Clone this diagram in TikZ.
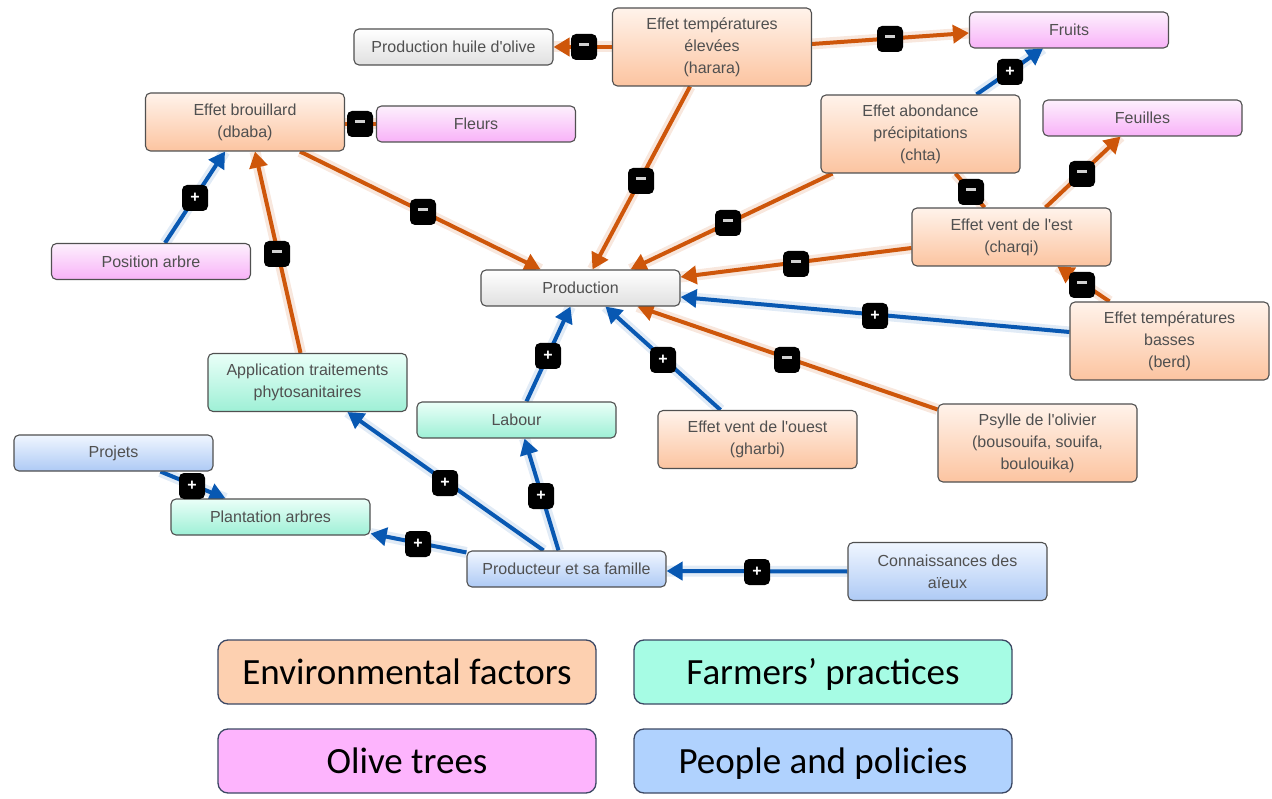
\documentclass[tikz,border=0pt]{standalone}
\usepackage{fontspec}
\setmainfont{Liberation Sans}
\newfontfamily\legendfont{Carlito}
\usetikzlibrary{arrows.meta}
\pgfdeclarelayer{bg}
\pgfsetlayers{bg,main}

\definecolor{edgeO}{RGB}{206,86,10}
\definecolor{edgeB}{RGB}{8,88,178}
\definecolor{envTop}{RGB}{255,243,235}
\definecolor{envBot}{RGB}{252,196,160}
\definecolor{treeTop}{RGB}{253,240,253}
\definecolor{treeBot}{RGB}{248,178,248}
\definecolor{pracTop}{RGB}{234,255,248}
\definecolor{pracBot}{RGB}{158,240,214}
\definecolor{peopTop}{RGB}{240,246,255}
\definecolor{peopBot}{RGB}{174,202,245}
\definecolor{grayBot}{RGB}{224,224,224}
\definecolor{nodeText}{RGB}{80,80,80}
\definecolor{nodeBorder}{RGB}{80,80,80}
\definecolor{legEnv}{RGB}{253,208,176}
\definecolor{legPrac}{RGB}{166,252,228}
\definecolor{legTree}{RGB}{253,180,253}
\definecolor{legPeop}{RGB}{176,210,254}
\definecolor{legBorder}{RGB}{60,72,100}

\newcommand{\badgeplus}{\textcolor{white}{\bfseries +}}
\newcommand{\badgeminus}{\textcolor{white!82!black}{\rule[4.5pt]{10pt}{2.6pt}}}

\tikzset{
  concept/.style={draw=nodeBorder, line width=1.1pt, rounded corners=5pt,
    minimum width=199pt, minimum height=36pt, align=center, text=nodeText,
    font=\fontsize{16}{22}\selectfont, inner sep=2pt},
  envbox/.style={concept, top color=envTop, bottom color=envBot},
  treebox/.style={concept, top color=treeTop, bottom color=treeBot},
  pracbox/.style={concept, top color=pracTop, bottom color=pracBot},
  peopbox/.style={concept, top color=peopTop, bottom color=peopBot},
  graybox/.style={concept, top color=white, bottom color=grayBot},
  twoline/.style={minimum height=58pt},
  threeline/.style={minimum height=78pt},
  tipO/.style={-{Triangle[length=16pt,width=18pt]}},
  linkO/.style={draw=edgeO, line width=4pt,
    preaction={draw=edgeO!14, line width=11pt, arrows=-}},
  linkB/.style={draw=edgeB, line width=4pt,
    preaction={draw=edgeB!12, line width=11pt, arrows=-}},
  badge/.style={fill=black, rounded corners=5pt, minimum width=26pt,
    minimum height=26pt, inner sep=0pt, font=\fontsize{16}{16}\selectfont},
  legbox/.style={draw=legBorder, line width=1.3pt, rounded corners=10pt,
    minimum width=378pt, minimum height=64pt, text=black, inner sep=0pt,
    text height=31pt, text depth=7pt,
    font=\legendfont\fontsize{37}{42}\selectfont}
}

\begin{document}
\begin{tikzpicture}[x=1pt,y=-1pt]
\useasboundingbox (0,0) rectangle (1272,799);

% concept nodes
\node[graybox] (huile) at (453.5,47) {Production huile d\textquotesingle olive};
\node[envbox,threeline] (harara) at (712,47) {Effet températures\\élevées\\(harara)};
\node[treebox] (fruits) at (1069,30) {Fruits};
\node[envbox,twoline] (brouillard) at (245,122) {Effet brouillard\\(dbaba)};
\node[treebox] (fleurs) at (476,124) {Fleurs};
\node[envbox,threeline] (chta) at (920.5,134) {Effet abondance\\précipitations\\(chta)};
\node[treebox] (feuilles) at (1142.5,118) {Feuilles};
\node[treebox] (posarbre) at (151,261.5) {Position arbre};
\node[graybox] (prod) at (580.5,288) {Production};
\node[envbox,twoline] (ventest) at (1011.5,237) {Effet vent de l\textquotesingle est\\(charqi)};
\node[envbox,threeline] (berd) at (1169.5,341) {Effet températures\\basses\\(berd)};
\node[pracbox,twoline] (appl) at (307.5,382.5) {Application traitements\\phytosanitaires};
\node[pracbox] (labour) at (516.5,420) {Labour};
\node[envbox,twoline] (gharbi) at (757.5,439.5) {Effet vent de l\textquotesingle ouest\\(gharbi)};
\node[envbox,threeline] (psylle) at (1037.5,443) {Psylle de l\textquotesingle olivier\\(bousouifa, souifa,\\boulouika)};
\node[peopbox] (projets) at (113.5,453) {Projets};
\node[pracbox] (plantation) at (270.5,517) {Plantation arbres};
\node[peopbox] (producteur) at (566.5,569) {Producteur et sa famille};
\node[peopbox,twoline] (connaiss) at (947.5,571.5) {Connaissances des\\aïeux};

% connectors
\begin{pgfonlayer}{bg}
\draw[linkO,tipO] (harara.west) -- (huile.east);
\draw[linkO,tipO] ([yshift=3pt]harara.east) -- ([yshift=-3pt]fruits.west);
\draw[linkO,tipO] ([xshift=-22pt]harara.south) -- ([xshift=12pt]prod.north);
\draw[linkO,tipO] ([xshift=-88pt]chta.south) -- ([xshift=50pt]prod.north);
\draw[linkO] ([yshift=-2pt]brouillard.east) -- (fleurs.west);
\draw[linkO,tipO] ([xshift=55pt]brouillard.south) -- ([xshift=-40pt]prod.north);
\draw[linkO,tipO] ([xshift=-7pt]appl.north) -- ([xshift=10pt]brouillard.south);
\draw[linkO] ([xshift=35pt]chta.south) -- ([xshift=-27pt]ventest.north);
\draw[linkO,tipO] ([xshift=34pt]ventest.north) -- ([xshift=-22pt]feuilles.south);
\draw[linkO,tipO] ([yshift=-11pt]ventest.west) -- ([yshift=11pt]prod.east);
\draw[linkO,tipO] ([xshift=-60pt]berd.north) -- ([xshift=46pt]ventest.south);
\draw[linkO,tipO] ([yshift=-6pt]psylle.north west) -- ([xshift=57pt]prod.south);

\draw[linkB,tipO] ([xshift=56pt]chta.north) -- ([xshift=-26pt]fruits.south);
\draw[linkB,tipO] ([xshift=14pt]posarbre.north) -- ([xshift=-20pt]brouillard.south);
\draw[linkB,tipO] ([yshift=9pt]berd.west) -- ([yshift=-9pt]prod.east);
\draw[linkB,tipO] ([xshift=-37pt]gharbi.north) -- ([xshift=25pt]prod.south);
\draw[linkB,tipO] ([xshift=10pt]labour.north) -- ([xshift=-10pt]prod.south);
\draw[linkB,tipO] ([xshift=-8pt]producteur.north) -- ([xshift=8pt]labour.south);
\draw[linkB,tipO] ([xshift=-23pt]producteur.north) -- ([xshift=40pt]appl.south);
\draw[linkB,tipO] ([yshift=-2pt]producteur.north west) -- ([yshift=2pt]plantation.south east);
\draw[linkB,tipO] ([xshift=47pt]projets.south) -- ([xshift=-45pt]plantation.north);
\draw[linkB,tipO] (connaiss.west) -- ([yshift=-2pt]producteur.east);
\end{pgfonlayer}

% sign badges
\node[badge] (b1) at (584,47) {\badgeminus};
\node[badge] (b2) at (890,39) {\badgeminus};
\node[badge] (b3) at (641,181) {\badgeminus};
\node[badge] (b4) at (1010,72) {\badgeplus};
\node[badge] (b5) at (728,223) {\badgeminus};
\node[badge] (b6) at (360,124) {\badgeminus};
\node[badge] (b7) at (423,212) {\badgeminus};
\node[badge] (b8) at (195,198) {\badgeplus};
\node[badge] (b9) at (277,254) {\badgeminus};
\node[badge] (b10) at (971,192) {\badgeminus};
\node[badge] (b11) at (1082,174) {\badgeminus};
\node[badge] (b12) at (796,264) {\badgeminus};
\node[badge] (b13) at (1082,285) {\badgeminus};
\node[badge] (b14) at (875,316) {\badgeplus};
\node[badge] (b15) at (787,360) {\badgeminus};
\node[badge] (b16) at (663,360) {\badgeplus};
\node[badge] (b17) at (548,356) {\badgeplus};
\node[badge] (b18) at (541,496) {\badgeplus};
\node[badge] (b19) at (445,483) {\badgeplus};
\node[badge] (b20) at (418,544) {\badgeplus};
\node[badge] (b21) at (192,486) {\badgeplus};
\node[badge] (b22) at (757,572) {\badgeplus};

% legend
\node[legbox, fill=legEnv] (legenv) at (407,672) {Environmental factors};
\node[legbox, fill=legPrac] (legprac) at (823,672) {Farmers’ practices};
\node[legbox, fill=legTree] (legtree) at (407,761) {Olive trees};
\node[legbox, fill=legPeop] (legpeop) at (823,761) {People and policies};
\end{tikzpicture}
\end{document}
